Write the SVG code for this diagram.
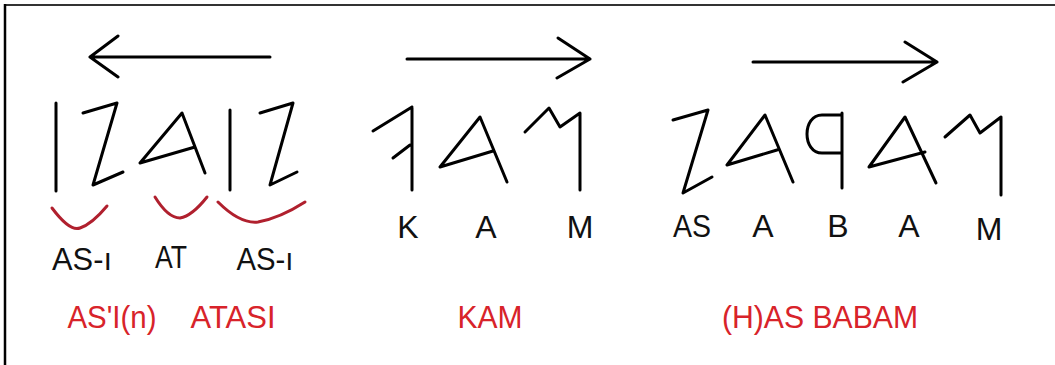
<svg xmlns="http://www.w3.org/2000/svg" width="1055" height="365" viewBox="0 0 1055 365">
<style>
.ink{fill:none;stroke:#000;stroke-width:3;stroke-linecap:round;stroke-linejoin:round}
.arc{fill:none;stroke:#b0202e;stroke-width:3;stroke-linecap:round;stroke-linejoin:round}
.lbl{font-family:"Liberation Sans",Arial,sans-serif;font-size:32px;fill:#111;text-anchor:middle}
.red{font-family:"Liberation Sans",Arial,sans-serif;font-size:32px;fill:#d8232a;text-anchor:middle}
</style>
<rect x="0" y="0" width="1055" height="365" fill="#fff"/>
<line x1="4" y1="5" x2="1055" y2="5" stroke="#333" stroke-width="2"/>
<line x1="5" y1="4" x2="5" y2="365" stroke="#000" stroke-width="2.5"/>

<g id="group-asi-atasi">
<path class="ink" d="M270,57 L90,57 M118,36 L90,57 L118,77"/>
<path class="ink" d="M56,103 L56,191"/>
<path class="ink" d="M83,113 L117,103 L93,185 L123,172"/>
<path class="ink" d="M140,163 L182,113 L205,173 M140,163 L195,147"/>
<path class="ink" d="M230,110 L230,190"/>
<path class="ink" d="M260,113 L293,103 L270,185 L297,172"/>
<path class="arc" d="M52,208 Q70,232 80,228 Q92,224 107,206"/>
<path class="arc" d="M155,197 Q168,218 180,218 Q192,216 207,197"/>
<path class="arc" d="M218,202 Q240,224 258,222 Q280,218 305,202"/>
<text class="lbl" x="82" y="270" textLength="60" lengthAdjust="spacingAndGlyphs">AS-ı</text>
<text class="lbl" x="171" y="268" textLength="32" lengthAdjust="spacingAndGlyphs">AT</text>
<text class="lbl" x="265" y="270" textLength="57" lengthAdjust="spacingAndGlyphs">AS-ı</text>
<text class="red" x="112" y="328" textLength="89" lengthAdjust="spacingAndGlyphs">AS'I(n)</text>
<text class="red" x="233" y="328" textLength="85" lengthAdjust="spacingAndGlyphs">ATASI</text>
</g>

<g id="group-kam">
<path class="ink" d="M407,59 L590,59 M558,38 L590,59 L557,78"/>
<path class="ink" d="M412,107 L412,190 M373,131 L412,107 M393,158 L410,145"/>
<path class="ink" d="M440,167 L480,117 L507,182 M440,167 L493,151"/>
<path class="ink" d="M525,132 L549,108 L560,127 L580,113 L580,190"/>
<text class="lbl" x="408" y="238">K</text>
<text class="lbl" x="486" y="238">A</text>
<text class="lbl" x="580" y="238">M</text>
<text class="red" x="490" y="328" textLength="65" lengthAdjust="spacingAndGlyphs">KAM</text>
</g>

<g id="group-has-babam">
<path class="ink" d="M753,62 L937,62 M905,42 L937,62 L903,82"/>
<path class="ink" d="M673,120 L708,110 L683,193 L712,177"/>
<path class="ink" d="M727,165 L765,115 L793,182 M727,165 L777,150"/>
<path class="ink" d="M842,113 L842,188 M842,115 L822,115 C802,115 802,153 822,153 L842,153"/>
<path class="ink" d="M869,167 L905,117 L936,183 M869,167 L925,152"/>
<path class="ink" d="M945,137 L970,115 L980,133 L1001,117 L1001,195"/>
<text class="lbl" x="692" y="237" textLength="38" lengthAdjust="spacingAndGlyphs">AS</text>
<text class="lbl" x="763" y="237">A</text>
<text class="lbl" x="838" y="237">B</text>
<text class="lbl" x="909" y="237">A</text>
<text class="lbl" x="989" y="240">M</text>
<text class="red" x="820" y="328" textLength="196" lengthAdjust="spacingAndGlyphs">(H)AS BABAM</text>
</g>
</svg>
